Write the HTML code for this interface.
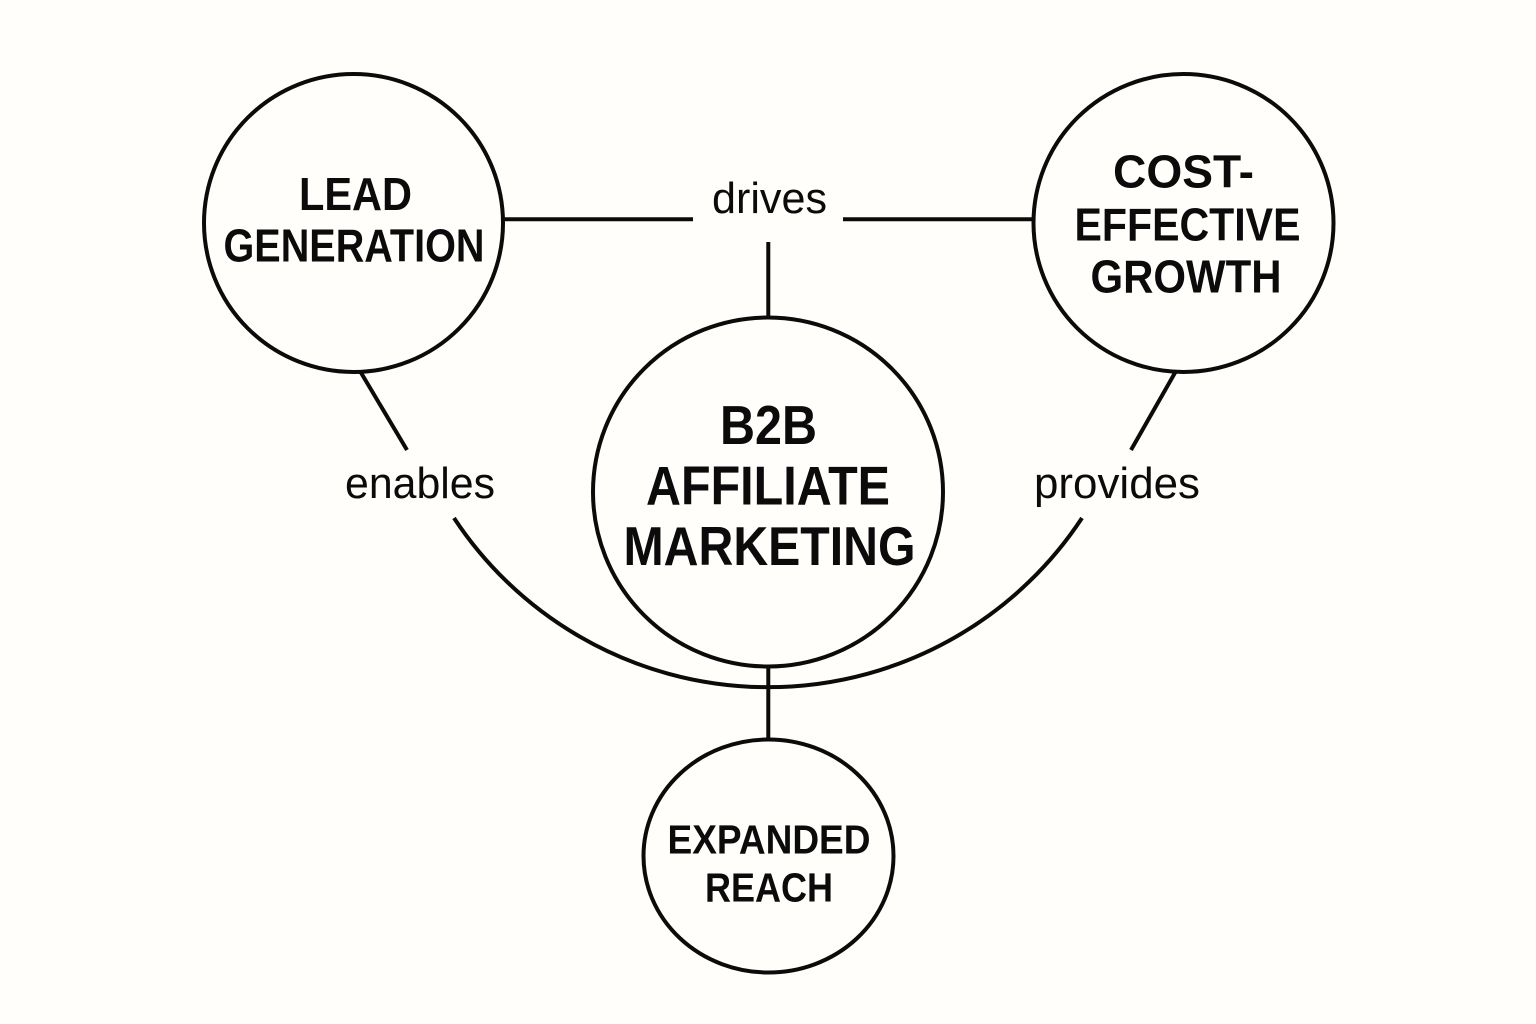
<!DOCTYPE html>
<html>
<head>
<meta charset="utf-8">
<style>
html,body{margin:0;padding:0;background:#fffefa;}
svg{display:block;}
text{font-family:"Liberation Sans",sans-serif;fill:#0b0b0b;text-anchor:middle;}
.b{font-weight:bold;}
</style>
</head>
<body>
<svg width="1536" height="1024" viewBox="0 0 1536 1024" xmlns="http://www.w3.org/2000/svg">
<rect width="1536" height="1024" fill="#fffefa"/>
<g fill="none" stroke="#0b0b0b" stroke-width="4">
<ellipse cx="353.5" cy="223" rx="149.5" ry="149"/>
<ellipse cx="1183.5" cy="223" rx="150" ry="149"/>
<ellipse cx="768" cy="492" rx="175" ry="174.5"/>
<ellipse cx="768.5" cy="856" rx="125" ry="116.5"/>
<path d="M503 219.3H693"/>
<path d="M843 219.3H1033"/>
<path d="M768.3 242V318"/>
<path d="M360 371L407 450"/>
<path d="M1176 371L1131 450"/>
<path d="M768.3 666V740"/>
<path d="M454 518A376 376 0 0 0 1082 518"/>
</g>
<text class="b" x="355.5" y="210" font-size="46" textLength="113" lengthAdjust="spacingAndGlyphs">LEAD</text>
<text class="b" x="354" y="261.5" font-size="46" textLength="261" lengthAdjust="spacingAndGlyphs">GENERATION</text>
<text class="b" x="1183.5" y="187.5" font-size="46" textLength="141" lengthAdjust="spacingAndGlyphs">COST-</text>
<text class="b" x="1187.5" y="240.5" font-size="46" textLength="226" lengthAdjust="spacingAndGlyphs">EFFECTIVE</text>
<text class="b" x="1186" y="292.5" font-size="46" textLength="191" lengthAdjust="spacingAndGlyphs">GROWTH</text>
<text class="b" x="768.5" y="444" font-size="55" textLength="97" lengthAdjust="spacingAndGlyphs">B2B</text>
<text class="b" x="768" y="504.5" font-size="55" textLength="244" lengthAdjust="spacingAndGlyphs">AFFILIATE</text>
<text class="b" x="769.5" y="565" font-size="55" textLength="292" lengthAdjust="spacingAndGlyphs">MARKETING</text>
<text class="b" x="769" y="853.5" font-size="41" textLength="203" lengthAdjust="spacingAndGlyphs">EXPANDED</text>
<text class="b" x="769" y="901.5" font-size="41" textLength="128" lengthAdjust="spacingAndGlyphs">REACH</text>
<text x="769.5" y="213" font-size="44" textLength="115" lengthAdjust="spacingAndGlyphs">drives</text>
<text x="420" y="498" font-size="44" textLength="150" lengthAdjust="spacingAndGlyphs">enables</text>
<text x="1117" y="498" font-size="44" textLength="166" lengthAdjust="spacingAndGlyphs">provides</text>
</svg>
</body>
</html>
